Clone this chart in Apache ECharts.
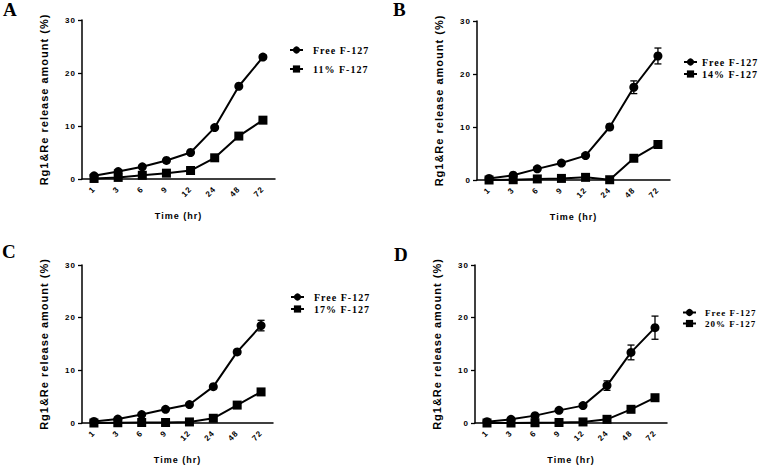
<!DOCTYPE html>
<html lang="en">
<head>
    <meta charset="UTF-8">
    <title>Rg1&Re release</title>
    <style>
        body { margin: 0; background: #fff; }
        #container { width: 762px; height: 465px; }
        /* GraphPad style spaced lettering */
        #container text { letter-spacing: 1px; }
    </style>
    <script src="https://cdn.jsdelivr.net/npm/echarts@6.0.0/dist/echarts.min.js"></script>
</head>
<body>
    <div id="container"></div>
    <script>
        // time points (hr)
        var timeLabels = ['1', '3', '6', '9', '12', '24', '48', '72'];
        var yTicks = [0, 10, 20, 30];
        var panelLetters = ['A', 'B', 'C', 'D'];
        var freeName = 'Free F-127';
        var gelNames = ['11% F-127', '14% F-127', '17% F-127', '20% F-127'];

        // release amount (%)
        var freeA = [0.6, 1.4, 2.3, 3.5, 5.0, 9.7, 17.5, 23.0];
        var gelA = [0.1, 0.3, 0.7, 1.1, 1.6, 4.0, 8.1, 11.1];
        var freeB = [0.3, 0.9, 2.1, 3.2, 4.6, 10.0, 17.5, 23.4];
        var gelB = [0.0, 0.05, 0.2, 0.3, 0.5, 0.05, 4.1, 6.7];
        var freeC = [0.3, 0.75, 1.6, 2.6, 3.5, 6.9, 13.5, 18.5];
        var gelC = [0.0, 0.05, 0.1, 0.1, 0.2, 0.9, 3.4, 5.9];
        var freeD = [0.25, 0.7, 1.4, 2.4, 3.3, 7.1, 13.4, 18.1];
        var gelD = [0.0, 0.0, 0.05, 0.1, 0.2, 0.7, 2.6, 4.8];

        // error (+/-)
        var freeErrA = [0.1, 0.2, 0.2, 0.2, 0.2, 0.3, 0.3, 0.4];
        var gelErrA = [0, 0, 0, 0, 0, 0.2, 0.2, 0.6];
        var freeErrB = [0.1, 0.1, 0.1, 0.2, 0.2, 0.5, 1.2, 1.5];
        var gelErrB = [0, 0, 0, 0, 0, 0, 0.3, 0.3];
        var freeErrC = [0.1, 0.1, 0.1, 0.1, 0.2, 0.3, 0.4, 1.0];
        var gelErrC = [0, 0, 0, 0, 0, 0.1, 0.2, 0.3];
        var freeErrD = [0.1, 0.1, 0.2, 0.2, 0.3, 0.9, 1.4, 2.2];
        var gelErrD = [0, 0, 0, 0, 0, 0.1, 0.3, 0.3];

        var freeData = [freeA, freeB, freeC, freeD];
        var gelData = [gelA, gelB, gelC, gelD];
        var freeErr = [freeErrA, freeErrB, freeErrC, freeErrD];
        var gelErr = [gelErrA, gelErrB, gelErrC, gelErrD];

        // layout of the four panels
        var panels = [
            { left: 82, top: 20, width: 193, letter: [3, 0], leg: [289, 45, 64], legPad: 5, legFont: 10 },
            { left: 477, top: 21, width: 193, letter: [393, 0], leg: [683, 57, 69], legPad: 0, legFont: 10 },
            { left: 82, top: 265, width: 191, letter: [2, 242], leg: [290, 292, 304], legPad: 5, legFont: 10 },
            { left: 475, top: 265, width: 192, letter: [394, 245], leg: [682, 308, 319], legPad: 4, legFont: 9 }
        ];

        var sansBold = { fontFamily: 'Liberation Sans', fontWeight: 'bold', color: '#000' };

        var chart = echarts.init(document.getElementById('container'), null, { renderer: 'svg' });

        var grid = [], xAxis = [], yAxis = [], series = [], legend = [], graphic = [];

        function errorBars(values, errs) {
            var out = [];
            values.forEach(function (v, i) {
                if (errs[i] > 0) out.push([i, v - errs[i], v + errs[i]]);
            });
            return out;
        }

        function renderErr(params, api) {
            var lo = api.coord([api.value(0), api.value(1)]);
            var hi = api.coord([api.value(0), api.value(2)]);
            var w = 3.5;
            var st = { stroke: '#000', lineWidth: 1.3 };
            return {
                type: 'group',
                children: [
                    { type: 'line', shape: { x1: lo[0], y1: lo[1], x2: hi[0], y2: hi[1] }, style: st },
                    { type: 'line', shape: { x1: lo[0] - w, y1: lo[1], x2: lo[0] + w, y2: lo[1] }, style: st },
                    { type: 'line', shape: { x1: hi[0] - w, y1: hi[1], x2: hi[0] + w, y2: hi[1] }, style: st }
                ]
            };
        }

        panels.forEach(function (p, k) {
            grid.push({ left: p.left, top: p.top, width: p.width, height: 159 });
            xAxis.push({
                type: 'category',
                gridIndex: k,
                data: timeLabels,
                name: 'Time (hr)',
                nameLocation: 'middle',
                nameGap: 32,
                nameTextStyle: Object.assign({ fontSize: 9 }, sansBold),
                axisLine: { lineStyle: { color: '#000', width: 1.5 } },
                axisTick: { alignWithLabel: true, length: 4, lineStyle: { color: '#000', width: 1.3 } },
                axisLabel: Object.assign({ rotate: 45, fontSize: 8, margin: 9, interval: 0 }, sansBold)
            });
            yAxis.push({
                type: 'value',
                gridIndex: k,
                min: yTicks[0],
                max: yTicks[yTicks.length - 1],
                interval: 10,
                name: 'Rg1&Re release amount (%)',
                nameLocation: 'middle',
                nameGap: 33,
                nameTextStyle: Object.assign({ fontSize: 11 }, sansBold),
                axisLine: { show: true, lineStyle: { color: '#000', width: 1.5 } },
                axisTick: { show: true, length: 4, lineStyle: { color: '#000', width: 1.3 } },
                splitLine: { show: false },
                axisLabel: Object.assign({ fontSize: 8, margin: 6 }, sansBold)
            });

            var lineCommon = {
                type: 'line',
                xAxisIndex: k,
                yAxisIndex: k,
                symbolSize: 9,
                lineStyle: { color: '#000', width: 2 },
                itemStyle: { color: '#000' },
                z: 3
            };
            series.push(Object.assign({ name: freeName, symbol: 'circle', data: freeData[k] }, lineCommon));
            series.push(Object.assign({ name: gelNames[k], symbol: 'rect', data: gelData[k] }, lineCommon));
            series.push({
                type: 'custom', xAxisIndex: k, yAxisIndex: k, z: 2,
                renderItem: renderErr, data: errorBars(freeData[k], freeErr[k])
            });
            series.push({
                type: 'custom', xAxisIndex: k, yAxisIndex: k, z: 2,
                renderItem: renderErr, data: errorBars(gelData[k], gelErr[k])
            });

            [freeName, gelNames[k]].forEach(function (nm, j) {
                legend.push({
                    data: [nm],
                    left: p.leg[0],
                    top: p.leg[1 + j],
                    orient: 'vertical',
                    selectedMode: false,
                    itemWidth: 13,
                    itemHeight: 9,
                    padding: 0,
                    textStyle: {
                        fontFamily: 'Liberation Serif',
                        fontWeight: 'bold',
                        fontSize: p.legFont,
                        color: '#000',
                        padding: [0, 0, 0, p.legPad]
                    }
                });
            });

            graphic.push({
                type: 'text',
                left: p.letter[0],
                top: p.letter[1],
                style: {
                    text: panelLetters[k],
                    font: 'bold 19px "Liberation Serif"',
                    fill: '#000'
                }
            });
        });

        chart.setOption({
            backgroundColor: '#fff',
            animation: false,
            grid: grid,
            xAxis: xAxis,
            yAxis: yAxis,
            legend: legend,
            graphic: graphic,
            series: series
        });
    </script>
</body>
</html>
